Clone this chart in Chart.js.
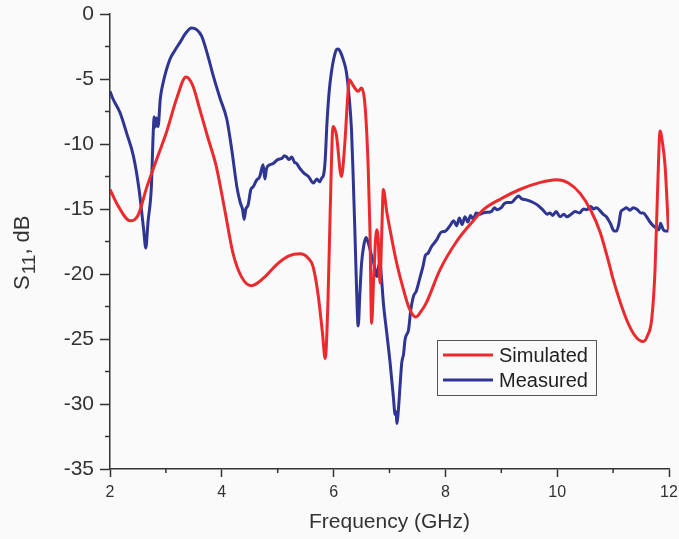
<!DOCTYPE html>
<html>
<head>
<meta charset="utf-8">
<script src="https://cdn.jsdelivr.net/npm/chart.js@4"></script>
<style>
  html, body { margin: 0; padding: 0; background: #fafafa; }
  #wrap { width: 679px; height: 539px; }
</style>
</head>
<body>
<div id="wrap"><canvas id="myChart" width="679" height="539"></canvas></div>
<script>
// values
const simFreq = [2.0, 2.15, 2.36, 2.5, 2.66, 2.85, 3.01, 3.2, 3.36, 3.48, 3.61, 3.75, 3.9, 4.05, 4.2, 4.35, 4.53, 4.75, 5.0, 5.2,
  5.4, 5.55, 5.63, 5.72, 5.8, 5.85, 5.9, 5.94, 5.99, 6.05, 6.14, 6.2, 6.25, 6.28, 6.35, 6.44, 6.5, 6.55, 6.59, 6.62,
  6.65, 6.68, 6.72, 6.77, 6.8, 6.83, 6.86, 6.89, 6.95, 7.01, 7.12, 7.25, 7.35, 7.47, 7.56, 7.66, 7.9, 8.2, 8.5, 8.68,
  9.0, 9.33, 9.7, 9.99, 10.2, 10.41, 10.6, 10.77, 10.94, 11.0, 11.24, 11.4, 11.54, 11.62, 11.69, 11.75, 11.8, 11.84, 11.88, 11.93, 11.99];
const simS11 = [-13.5, -14.8, -15.9, -15.5, -13.3, -11.0, -9.1, -6.4, -4.85, -5.5, -7.4, -9.5, -11.7, -15.0, -18.4, -20.2, -20.9, -20.3, -19.2, -18.6,
  -18.45, -18.8, -19.4, -21.5, -24.5, -26.5, -22, -15, -8.65, -9.3, -12.5, -10, -6.5, -5.05, -5.5, -5.95, -5.7, -6.5, -8.9, -12,
  -16.6, -23.8, -20, -16.6, -17.5, -20.7, -17, -13.5, -15.2, -16.6, -19, -21.2, -22.6, -23.3, -22.9, -22.2, -19.7, -17.5, -15.9, -15.05,
  -14.2, -13.5, -12.95, -12.75, -13.0, -13.8, -15.1, -16.8, -19.4, -20.4, -23.5, -24.8, -25.2, -24.7, -23.5, -19.7, -13, -9.0, -9.8, -11.7, -16.6];

const measFreq = [2.0, 2.05, 2.18, 2.3, 2.42, 2.52, 2.6, 2.64, 2.68, 2.74, 2.77, 2.79, 2.81, 2.83, 2.86, 2.9, 2.95, 3.07, 3.16, 3.25,
  3.35, 3.46, 3.55, 3.64, 3.75, 3.85, 3.97, 4.09, 4.18, 4.27, 4.33, 4.37, 4.40, 4.43, 4.47, 4.52, 4.56, 4.62, 4.68, 4.72,
  4.74, 4.77, 4.8, 4.86, 4.92, 5.0, 5.08, 5.12, 5.16, 5.2, 5.25, 5.3, 5.34, 5.4, 5.46, 5.55, 5.64, 5.7, 5.75, 5.79,
  5.82, 5.85, 5.88, 5.92, 5.96, 6.0, 6.05, 6.08, 6.12, 6.18, 6.23, 6.28, 6.32, 6.35, 6.38, 6.41, 6.44, 6.47, 6.5, 6.54,
  6.58, 6.62, 6.68, 6.72, 6.77, 6.8, 6.83, 6.86, 6.89, 6.95, 7.01, 7.07, 7.1, 7.12, 7.13, 7.16, 7.19, 7.22, 7.25, 7.28,
  7.34, 7.38, 7.43, 7.48, 7.55, 7.6, 7.64, 7.69, 7.75, 7.84, 7.92, 8.0, 8.08, 8.15, 8.2, 8.25, 8.3, 8.35, 8.4, 8.45,
  8.5, 8.55, 8.62, 8.68, 8.75, 8.82, 8.88, 8.92, 9.0, 9.05, 9.1, 9.18, 9.25, 9.31, 9.36, 9.45, 9.57, 9.65, 9.75, 9.82,
  9.87, 9.92, 9.98, 10.05, 10.12, 10.17, 10.25, 10.32, 10.4, 10.47, 10.53, 10.6, 10.65, 10.7, 10.76, 10.82, 10.88, 10.95, 11.02, 11.06,
  11.1, 11.14, 11.18, 11.24, 11.3, 11.36, 11.42, 11.5, 11.54, 11.6, 11.66, 11.72, 11.78, 11.82, 11.85, 11.87, 11.9, 11.95, 11.99];
const measS11 = [-5.95, -6.5, -7.6, -9.2, -10.95, -13.5, -16.5, -18.0, -16.0, -13.3, -9.5, -7.9, -8.7, -8.0, -8.65, -6.5, -5.3, -3.5, -2.8, -2.2,
  -1.5, -1.08, -1.2, -1.7, -3.2, -4.8, -6.5, -8.1, -10.5, -13.3, -14.5, -15.0, -15.8, -15.0, -14.7, -13.5, -13.3, -12.8, -12.5, -11.8,
  -11.6, -12.7, -11.9, -11.6, -11.5, -11.2, -11.1, -10.9, -11.0, -11.2, -11.0, -11.4, -11.5, -11.9, -12.2, -12.5, -13.0, -12.7, -12.9, -12.6,
  -12.4, -11.2, -8.5, -6.0, -4.5, -3.5, -2.75, -2.7, -2.9, -3.6, -4.5, -6.5, -8.9, -12.5, -16.6, -21, -24.0, -21.5, -19.2, -17.8,
  -17.2, -17.6, -18.6, -19.2, -20.2, -19.5, -19.2, -20.5, -22.2, -24.5, -26.8, -29.5, -30.8, -30.6, -31.5, -30.4, -28.5, -26.8, -26.2, -25.0,
  -24.3, -22.8, -21.7, -21.3, -20.2, -19.4, -18.6, -18.4, -17.9, -17.4, -16.8, -16.7, -16.3, -15.9, -16.3, -15.7, -16.2, -15.6, -16.0, -15.5,
  -15.8, -15.3, -15.4, -15.3, -15.25, -15.2, -14.9, -15.05, -14.9, -14.6, -14.5, -14.5, -14.2, -14.0, -14.2, -14.3, -14.5, -14.7, -15.1, -15.4,
  -15.3, -15.5, -15.2, -15.6, -15.4, -15.6, -15.4, -15.2, -15.3, -15.0, -15.05, -14.8, -15.0, -14.9, -15.1, -15.4, -15.6, -16.1, -16.7, -16.7,
  -16.2, -15.2, -15.05, -14.9, -15.1, -14.9, -15.0, -15.3, -15.3, -15.6, -16.0, -16.3, -16.5, -16.6, -16.1, -16.3, -16.6, -16.7, -16.7];

const seriesNames = ["Simulated", "Measured"];
const xTickMin = 2, xTickMax = 12;
const yTickMin = -35, yTickMax = 0;

function toPoints(xs, ys) {
    let pts = [];
    for (let i = 0; i < xs.length; i++) {
        pts.push({x: xs[i], y: ys[i]});
    }
    return pts;
}

const inkColor = "#333333";

// background, minor ticks, y title and boxed legend
const decorPlugin = {
    id: "decor",
    beforeDraw(chart) {
        const c = chart.ctx;
        c.save();
        c.fillStyle = "#fafafa";
        c.fillRect(0, 0, chart.width, chart.height);
        c.restore();
    },
    afterDraw(chart) {
        const c = chart.ctx;
        const xs = chart.scales.x, ys = chart.scales.y;
        const area = chart.chartArea;
        c.save();
        c.strokeStyle = inkColor;
        c.lineWidth = 1.5;
        // minor ticks (half length)
        xs.ticks.forEach(t => {
            if (t.value % 2 !== 0) {
                let px = xs.getPixelForValue(t.value);
                c.beginPath();
                c.moveTo(px, area.bottom);
                c.lineTo(px, area.bottom + 4);
                c.stroke();
            }
        });
        ys.ticks.forEach(t => {
            if (t.value % 5 !== 0) {
                let py = ys.getPixelForValue(t.value);
                c.beginPath();
                c.moveTo(area.left - 5, py);
                c.lineTo(area.left, py);
                c.stroke();
            }
        });

        // y axis title with subscript
        c.translate(29, 290);
        c.rotate(-Math.PI / 2);
        c.fillStyle = inkColor;
        c.textBaseline = "alphabetic";
        c.textAlign = "left";
        c.font = "22px 'Liberation Sans', Arial, sans-serif";
        c.fillText("S", 0, 0);
        let w = c.measureText("S").width + 1;
        c.font = "19px 'Liberation Sans', Arial, sans-serif";
        c.fillText("11", w, 6);
        w += c.measureText("11").width;
        c.font = "22px 'Liberation Sans', Arial, sans-serif";
        c.fillText(", dB", w, 0);
        c.restore();

        // legend box
        c.save();
        c.fillStyle = "#fafafa";
        c.fillRect(437.5, 340.5, 159, 55);
        c.strokeStyle = "#555";
        c.lineWidth = 1;
        c.strokeRect(437.5, 340.5, 159, 55);
        c.font = "20px 'Liberation Sans', Arial, sans-serif";
        c.textBaseline = "middle";
        chart.data.datasets.forEach((ds, i) => {
            let yy = 355 + i * 25;
            c.strokeStyle = ds.borderColor;
            c.lineWidth = 3;
            c.beginPath();
            c.moveTo(443, yy);
            c.lineTo(493, yy);
            c.stroke();
            c.fillStyle = "#222";
            c.fillText(ds.label, 499, yy + 1);
        });
        c.restore();
    }
};

let canvas = document.getElementById("myChart").getContext("2d");
let myChart = new Chart(canvas, {
    type: "line",
    data: {
        datasets: [
            {
                label: seriesNames[0],
                data: toPoints(simFreq, simS11),
                borderColor: "#ec2a2e",
                borderWidth: 3,
                pointRadius: 0,
                cubicInterpolationMode: "monotone",
                fill: false
            },
            {
                label: seriesNames[1],
                data: toPoints(measFreq, measS11),
                borderColor: "#2e3593",
                borderWidth: 3,
                pointRadius: 0,
                cubicInterpolationMode: "monotone",
                fill: false
            }
        ]
    },
    options: {
        responsive: false,
        animation: false,
        devicePixelRatio: 1,
        layout: { padding: { top: 14, right: 10, left: 0, bottom: 0 } },
        plugins: {
            legend: { display: false },
            tooltip: { enabled: false }
        },
        scales: {
            x: {
                type: "linear",
                min: xTickMin,
                max: xTickMax,
                afterFit: s => { s.height = 70; s.paddingLeft = 0; s.paddingRight = 0; },
                ticks: {
                    stepSize: 1,
                    autoSkip: false,
                    maxRotation: 0,
                    padding: 6,
                    color: inkColor,
                    font: { family: "'Liberation Sans', Arial, sans-serif", size: 16 },
                    callback: v => (v % 2 === 0 ? v : "")
                },
                grid: {
                    drawOnChartArea: false,
                    tickLength: 8,
                    tickWidth: 1.5,
                    tickColor: ctx => (ctx.tick && ctx.tick.value % 2 === 0 ? inkColor : "rgba(0,0,0,0)")
                },
                border: { color: inkColor, width: 1.5 },
                title: {
                    display: true,
                    text: "Frequency (GHz)",
                    color: inkColor,
                    font: { family: "'Liberation Sans', Arial, sans-serif", size: 21 },
                    padding: { top: 8 }
                }
            },
            y: {
                min: yTickMin,
                max: yTickMax,
                afterFit: s => { s.width = 110; s.paddingTop = 0; s.paddingBottom = 0; },
                ticks: {
                    stepSize: 2.5,
                    autoSkip: false,
                    padding: 6,
                    color: inkColor,
                    font: { family: "'Liberation Sans', Arial, sans-serif", size: 21 },
                    callback: v => (v % 5 === 0 ? v : "")
                },
                grid: {
                    drawOnChartArea: false,
                    tickLength: 10,
                    tickWidth: 1.5,
                    tickColor: ctx => (ctx.tick && ctx.tick.value % 5 === 0 ? inkColor : "rgba(0,0,0,0)")
                },
                border: { color: inkColor, width: 1.5 }
            }
        }
    },
    plugins: [decorPlugin]
});
</script>
</body>
</html>
